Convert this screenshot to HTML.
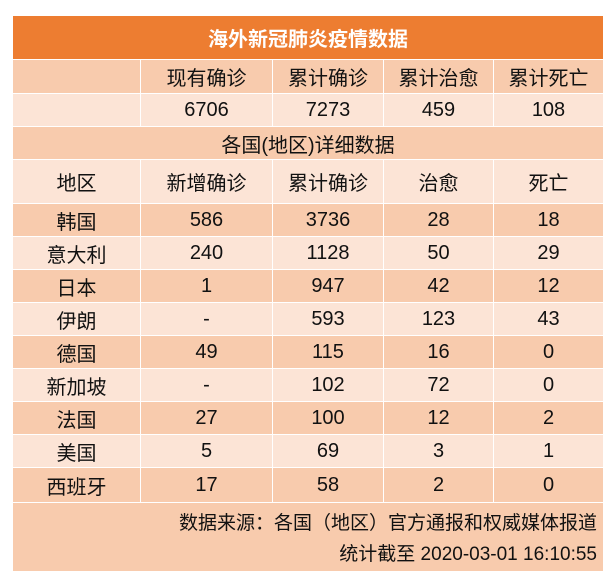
<!DOCTYPE html>
<html><head><meta charset="utf-8"><style>
body{margin:0;width:615px;height:586px;background:#fff;overflow:hidden;font-family:"Liberation Sans","Noto Sans CJK SC",sans-serif;}
.t{position:absolute;left:13px;width:590px;}
.r{position:absolute;left:13px;width:590px;display:flex;box-sizing:border-box;border-top:1px solid #fff;}
.r div{display:flex;align-items:center;justify-content:center;font-size:20px;color:#111;box-sizing:border-box;border-left:1.5px solid #fff;}
.r div:first-child{border-left:none}
.c0{width:127px}.c1{width:132px}.c2{width:111px}.c3{width:110px}.c4{width:110px}
.d{background:#F8CBAD}.l{background:#FCE4D6}
</style></head><body>
<div class="t" style="top:16px;height:43px;background:#ED7D31;color:#fff;font-weight:bold;font-size:20px;display:flex;align-items:center;justify-content:center;">海外新冠肺炎疫情数据</div>
<div class="r d" style="top:59px;height:34px"><div class="c0"></div><div class="c1">现有确诊</div><div class="c2">累计确诊</div><div class="c3">累计治愈</div><div class="c4">累计死亡</div></div>
<div class="r l" style="top:93px;height:33px"><div class="c0"></div><div class="c1">6706</div><div class="c2">7273</div><div class="c3">459</div><div class="c4">108</div></div>
<div class="r d" style="top:126px;height:33px"><div style="width:590px">各国(地区)详细数据</div></div>
<div class="r l" style="top:159px;height:44px"><div class="c0">地区</div><div class="c1">新增确诊</div><div class="c2">累计确诊</div><div class="c3">治愈</div><div class="c4">死亡</div></div>
<div class="r d" style="top:203px;height:33px"><div class="c0">韩国</div><div class="c1">586</div><div class="c2">3736</div><div class="c3">28</div><div class="c4">18</div></div>
<div class="r l" style="top:236px;height:33px"><div class="c0">意大利</div><div class="c1">240</div><div class="c2">1128</div><div class="c3">50</div><div class="c4">29</div></div>
<div class="r d" style="top:269px;height:33px"><div class="c0">日本</div><div class="c1">1</div><div class="c2">947</div><div class="c3">42</div><div class="c4">12</div></div>
<div class="r l" style="top:302px;height:33px"><div class="c0">伊朗</div><div class="c1">-</div><div class="c2">593</div><div class="c3">123</div><div class="c4">43</div></div>
<div class="r d" style="top:335px;height:33px"><div class="c0">德国</div><div class="c1">49</div><div class="c2">115</div><div class="c3">16</div><div class="c4">0</div></div>
<div class="r l" style="top:368px;height:33px"><div class="c0">新加坡</div><div class="c1">-</div><div class="c2">102</div><div class="c3">72</div><div class="c4">0</div></div>
<div class="r d" style="top:401px;height:33px"><div class="c0">法国</div><div class="c1">27</div><div class="c2">100</div><div class="c3">12</div><div class="c4">2</div></div>
<div class="r l" style="top:434px;height:33px"><div class="c0">美国</div><div class="c1">5</div><div class="c2">69</div><div class="c3">3</div><div class="c4">1</div></div>
<div class="r d" style="top:467px;height:35px"><div class="c0">西班牙</div><div class="c1">17</div><div class="c2">58</div><div class="c3">2</div><div class="c4">0</div></div>
<div class="t d" style="top:502px;height:69px;border-top:1px solid #fff;box-sizing:border-box;font-size:19px;color:#111;text-align:right;padding-right:6px;line-height:31px;padding-top:5px;">数据来源：各国（地区）官方通报和权威媒体报道<br>统计截至 2020-03-01 16:10:55</div>
</body></html>
